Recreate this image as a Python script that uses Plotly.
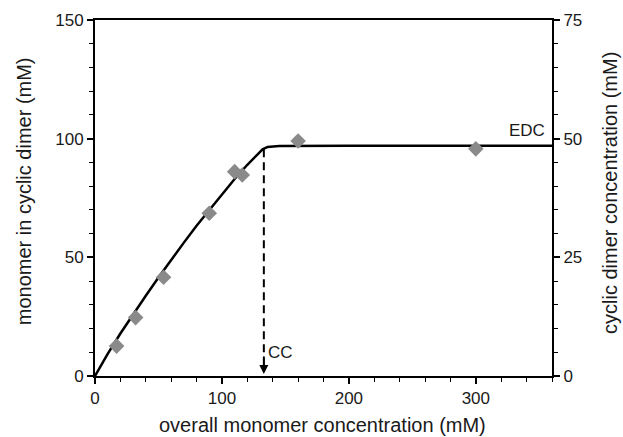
import plotly.graph_objects as go

# measured points (overall monomer conc, monomer in cyclic dimer)
pts_x = [17, 32, 54, 90, 110, 116, 160, 300]
pts_y = [12.6, 24.6, 41.6, 68.6, 86.1, 84.7, 99, 95.7]

# fitted curve
fit_x = [0, 10, 20, 30, 40, 50, 60, 70, 80, 90, 100, 110, 120, 128, 132, 136, 145, 200, 360]
fit_y = [0, 9.3, 17.9, 26, 33.8, 41.5, 49, 56.2, 63.3, 70, 76.7, 83, 89, 93.5, 95.5, 96.5, 96.9, 97, 97]

cc_x = 133
cc_top = 95.5
cc_bottom = 4

x_range = [0, 360]
y_range = [0, 150]
y2_range = [0, 75]

x_title = "overall monomer concentration (mM)"
y_title = "monomer in cyclic dimer (mM)"
y2_title = "cyclic dimer concentration (mM)"

font_family = "Liberation Sans, Arial, sans-serif"
ink = "#1a1a1a"

fig = go.Figure()
fig.add_trace(go.Scatter(x=fit_x, y=fit_y, mode="lines",
                         line=dict(color="black", width=2.5), showlegend=False))
fig.add_trace(go.Scatter(x=pts_x, y=pts_y, mode="markers",
                         marker=dict(symbol="diamond", size=12, color="#8a8a8a"),
                         showlegend=False))
fig.add_trace(go.Scatter(x=[cc_x, cc_x], y=[cc_top, cc_bottom], mode="lines",
                         line=dict(color="black", width=2, dash="8px,5px"),
                         showlegend=False))
# dummy trace for right axis
fig.add_trace(go.Scatter(x=[0], y=[0], yaxis="y2", mode="markers",
                         marker=dict(opacity=0), showlegend=False, hoverinfo="skip"))

fig.add_annotation(x=cc_x, y=0.8, ax=cc_x, ay=9, xref="x", yref="y", axref="x", ayref="y",
                   showarrow=True, arrowhead=2, arrowsize=1.2, arrowwidth=1.5,
                   arrowcolor="black", text="")
fig.add_annotation(x=cc_x + 1.5, y=10, xref="x", yref="y", text="CC", showarrow=False,
                   xanchor="left", yanchor="middle", font=dict(size=17, color=ink, family=font_family))
fig.add_annotation(x=356, y=103.5, xref="x", yref="y", text="EDC", showarrow=False,
                   xanchor="right", yanchor="middle", font=dict(size=17, color=ink, family=font_family))

# axis titles as annotations for precise placement
title_font = dict(size=20, color=ink, family=font_family)
fig.add_annotation(x=0.4984, y=-0.139, xref="paper", yref="paper", text=x_title,
                   showarrow=False, xanchor="center", yanchor="middle", font=title_font)
fig.add_annotation(x=-0.1563, y=0.5177, xref="paper", yref="paper", text=y_title,
                   showarrow=False, xanchor="center", yanchor="middle", textangle=-90, font=title_font)
fig.add_annotation(x=1.1268, y=0.514, xref="paper", yref="paper", text=y2_title,
                   showarrow=False, xanchor="center", yanchor="middle", textangle=-90, font=title_font)

axis_common = dict(showgrid=False, zeroline=False, showline=True, linecolor="black",
                   linewidth=2, ticks="outside", ticklen=6, tickwidth=1.5, tickcolor="black",
                   automargin=False,
                   tickfont=dict(size=17, color=ink, family=font_family))

fig.update_layout(
    width=623, height=437,
    margin=dict(l=94.5, r=71, t=20, b=61),
    plot_bgcolor="white", paper_bgcolor="white",
    font=dict(family=font_family, color=ink),
    xaxis=dict(range=x_range, tickvals=[0, 100, 200, 300], mirror=True,
               minor=dict(dtick=20, ticks="outside", ticklen=4, tickwidth=1.2, tickcolor="black"),
               **axis_common),
    yaxis=dict(range=y_range, tickvals=[0, 50, 100, 150],
               minor=dict(dtick=10, ticks="outside", ticklen=4, tickwidth=1.2, tickcolor="black"),
               **axis_common),
    yaxis2=dict(range=y2_range, tickvals=[0, 25, 50, 75], overlaying="y", side="right",
                minor=dict(dtick=5, ticks="outside", ticklen=4, tickwidth=1.2, tickcolor="black"),
                **axis_common),
)

fig.write_html("out.html")
